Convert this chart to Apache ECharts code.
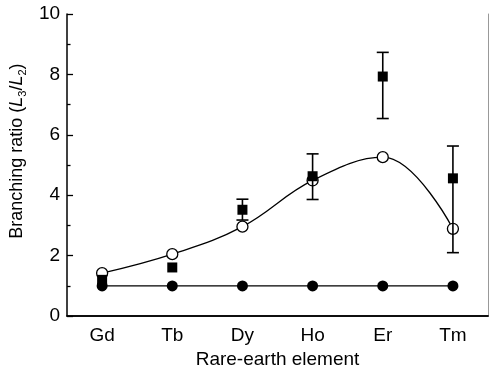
<!DOCTYPE html>
<html>
<head>
<meta charset="utf-8">
<script src="https://cdn.jsdelivr.net/npm/echarts@6/dist/echarts.min.js"></script>
<style>
  html, body { margin: 0; padding: 0; background: #fff; }
  #chart { width: 490px; height: 374px; }
</style>
</head>
<body>
<div id="chart"></div>
<script>
// Rare-earth elements along the x axis
const elements = ['Gd', 'Tb', 'Dy', 'Ho', 'Er', 'Tm'];

// Measured L3/L2 branching ratios (filled squares) and their error ranges
const measured    = [1.2, 1.61, 3.52, 4.63, 7.93, 4.56];
const measuredLow = [null, null, 3.18, 3.86, 6.54, 2.1];
const measuredHigh= [null, null, 3.87, 5.37, 8.73, 5.63];

// Calculated branching ratios (open circles, smooth curve)
const calculated  = [1.42, 2.05, 2.96, 4.49, 5.26, 2.89];

// Statistical ratio (filled circles)
const statistical = [1.0, 1.0, 1.0, 1.0, 1.0, 1.0];

const yTicks = [0, 2, 4, 6, 8, 10];

const FONT = '"Liberation Sans", Arial, Helvetica, sans-serif';

const errorData = elements.map((e, i) => [i, measuredLow[i], measuredHigh[i]])
  .filter(d => d[1] !== null);

const chart = echarts.init(document.getElementById('chart'), null, { renderer: 'canvas' });

chart.setOption({
  animation: false,
  backgroundColor: '#fff',
  textStyle: { fontFamily: FONT, color: '#000' },
  grid: { left: 62, right: 2, top: 14, bottom: 56, containLabel: false },
  xAxis: [{
    type: 'category',
    data: elements,
    boundaryGap: true,
    axisLine: { lineStyle: { color: '#000', width: 1.5 } },
    axisTick: { inside: true, alignWithLabel: true, length: 5, lineStyle: { color: '#000', width: 1.3 } },
    axisLabel: { fontFamily: FONT, fontSize: 19, color: '#000', margin: 10 },
    splitLine: { show: false },
    name: 'Rare-earth element',
    nameLocation: 'middle',
    nameGap: 33,
    nameTextStyle: { fontFamily: FONT, fontSize: 19, color: '#000' }
  }, {
    type: 'category',
    data: elements,
    position: 'top',
    axisLine: { lineStyle: { color: '#000', width: 1.5 } },
    axisTick: { show: false },
    axisLabel: { show: false }
  }],
  yAxis: [{
    type: 'value',
    min: yTicks[0],
    max: yTicks[yTicks.length - 1],
    interval: 2,
    axisLine: { show: true, lineStyle: { color: '#000', width: 1.5 } },
    axisTick: { show: true, inside: true, length: 6, lineStyle: { color: '#000', width: 1.3 } },
    minorTick: { show: true, splitNumber: 2, length: 3.5, lineStyle: { color: '#000', width: 1.3 } },
    axisLabel: { fontFamily: FONT, fontSize: 19, color: '#000', margin: 7 },
    splitLine: { show: false },
    name: '{n|Branching ratio (}{i|L}{s|3}{n|/}{i|L}{s|2}{n|)}',
    nameLocation: 'middle',
    nameGap: 28,
    nameTextStyle: {
      padding: [0, 0, 0, 28],
      rich: {
        n: { fontFamily: FONT, fontSize: 18, color: '#000', lineHeight: 22 },
        i: { fontFamily: FONT, fontSize: 18, fontStyle: 'italic', color: '#000', lineHeight: 22 },
        s: { fontFamily: FONT, fontSize: 11, color: '#000', lineHeight: 11, verticalAlign: 'bottom' }
      }
    }
  }, {
    type: 'value',
    position: 'right',
    min: yTicks[0],
    max: yTicks[yTicks.length - 1],
    interval: 2,
    axisLine: { show: true, lineStyle: { color: '#999', width: 1 } },
    axisTick: { show: false },
    axisLabel: { show: false },
    splitLine: { show: false }
  }],
  series: [{
    name: 'statistical',
    type: 'line',
    data: statistical,
    symbol: 'circle',
    symbolSize: 11,
    itemStyle: { color: '#000' },
    lineStyle: { color: '#000', width: 1.1 },
    z: 3
  }, {
    name: 'calculated',
    type: 'line',
    data: calculated,
    smooth: 0.4,
    symbol: 'circle',
    symbolSize: 11,
    itemStyle: { color: '#fff', borderColor: '#000', borderWidth: 1.3 },
    lineStyle: { color: '#000', width: 1.3 },
    z: 4
  }, {
    name: 'errors',
    type: 'custom',
    data: errorData,
    renderItem: function (params, api) {
      const x = api.value(0);
      const lo = api.coord([x, api.value(1)]);
      const hi = api.coord([x, api.value(2)]);
      const cap = 6;
      const style = { stroke: '#000', lineWidth: 1.6 };
      return {
        type: 'group',
        children: [
          { type: 'line', shape: { x1: lo[0], y1: lo[1], x2: hi[0], y2: hi[1] }, style: style },
          { type: 'line', shape: { x1: lo[0] - cap, y1: lo[1], x2: lo[0] + cap, y2: lo[1] }, style: style },
          { type: 'line', shape: { x1: hi[0] - cap, y1: hi[1], x2: hi[0] + cap, y2: hi[1] }, style: style }
        ]
      };
    },
    z: 5
  }, {
    name: 'measured',
    type: 'scatter',
    data: measured,
    symbol: 'rect',
    symbolSize: 10,
    itemStyle: { color: '#000', opacity: 1 },
    z: 6
  }]
});
</script>
</body>
</html>
